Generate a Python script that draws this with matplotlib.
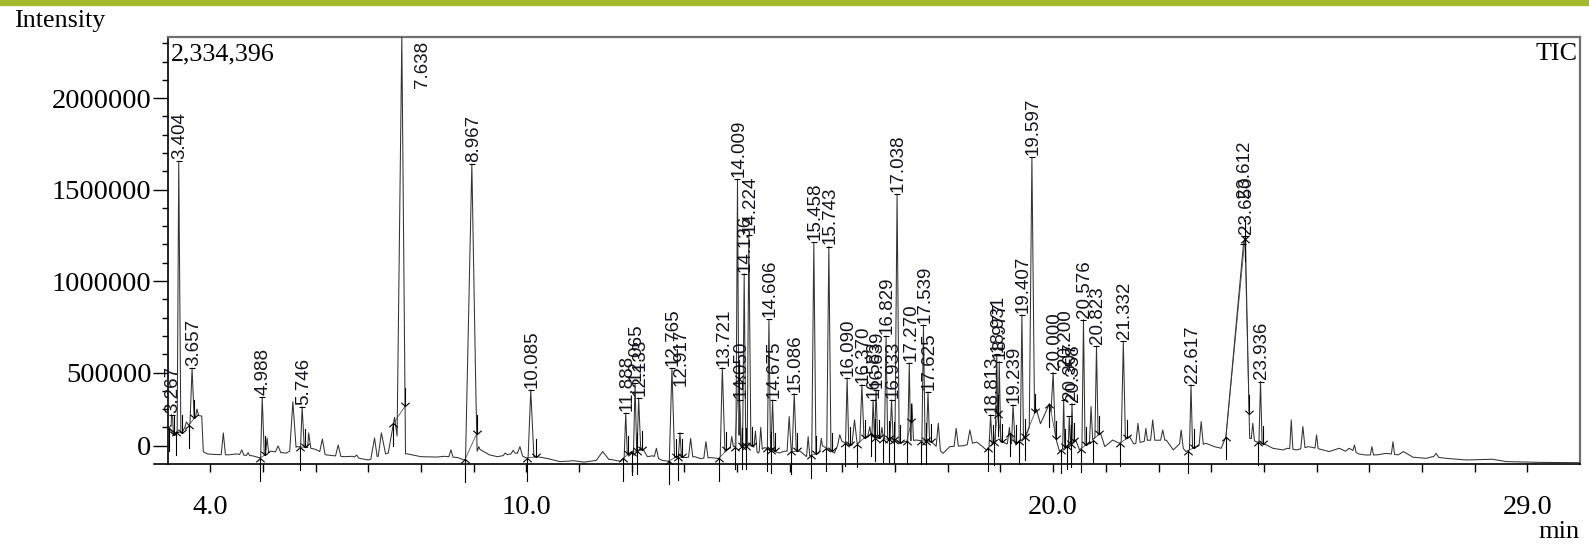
import numpy as np
import matplotlib
matplotlib.use("Agg")
import matplotlib.pyplot as plt
from matplotlib.path import Path
from matplotlib.ticker import FixedLocator

# ---------------------------------------------------------------- data
# detector floor between peaks: retention time (min) and intensity
base_rt = [3.20, 3.25, 3.31, 3.36, 3.46, 3.52, 3.60, 3.70, 3.78, 3.84, 3.87, 3.95,
           4.10, 4.35, 4.50, 4.65, 4.80, 4.95, 5.15, 5.35, 5.45, 5.65, 5.85, 6.00,
           6.20, 6.35, 6.55, 6.70, 6.85, 7.00, 7.38, 7.75, 8.00, 8.30, 8.45, 8.70,
           8.82, 9.12, 9.30, 9.45, 9.55, 9.70, 9.82, 10.00, 10.20, 10.40, 10.64,
           10.90, 11.10, 11.33, 11.60, 11.78, 11.95, 12.22, 12.30, 12.40, 12.58,
           12.70, 12.85, 13.00, 13.20, 13.30, 13.50, 13.65, 13.82, 13.93, 14.30,
           14.40, 14.52, 14.80, 14.90, 15.20, 15.32, 15.55, 15.62, 15.85, 15.95,
           16.15, 16.30, 16.45, 16.72, 16.99, 17.10, 17.18, 17.40, 17.70, 17.91,
           18.04, 18.30, 18.55, 18.66, 18.73, 18.88, 19.05, 19.12, 19.30, 19.48,
           19.68, 19.76, 19.93, 20.07, 20.12, 20.43, 20.50, 20.66, 20.90, 20.98,
           21.13, 21.26, 21.45, 21.53, 21.68, 21.80, 21.97, 22.15, 22.28, 22.40,
           22.52, 22.72, 22.90, 23.06, 23.19, 23.28, 23.75, 23.85, 24.05, 24.17,
           24.36, 24.45, 24.62, 24.85, 25.08, 25.24, 25.43, 25.55, 25.62, 25.80,
           25.94, 26.15, 26.32, 26.55, 26.65, 26.83, 27.08, 27.20, 27.35, 27.46,
           27.84, 28.34, 28.60, 29.23, 30.00]
base_int = [186000, 210000, 160000, 175000, 170000, 200000, 215000, 250000, 265000,
            262000, 67000, 55000, 52000, 50000, 55000, 48000, 45000, 33000, 70000,
            62000, 60000, 95000, 90000, 80000, 50000, 45000, 40000, 42000, 30000,
            22000, 60000, 55000, 40000, 38000, 42000, 35000, 22000, 80000, 50000,
            40000, 45000, 55000, 60000, 33000, 40000, 30000, 13000, 18000, 10000,
            20000, 25000, 15000, 58000, 80000, 40000, 45000, 20000, 15000, 40000,
            35000, 40000, 30000, 35000, 30000, 80000, 95000, 100000, 60000, 90000,
            60000, 70000, 70000, 40000, 60000, 100000, 60000, 131000, 100000,
            113000, 150000, 140000, 131000, 113000, 122000, 131000, 120000, 58000,
            95000, 100000, 120000, 95000, 77000, 120000, 120000, 110000, 113000,
            150000, 300000, 220000, 330000, 120000, 70000, 131000, 77000, 113000,
            168000, 95000, 131000, 113000, 150000, 110000, 120000, 130000, 130000,
            130000, 77000, 110000, 68000, 95000, 113000, 95000, 86000, 150000,
            140000, 122000, 104000, 86000, 77000, 86000, 77000, 95000, 80000,
            68000, 86000, 70000, 86000, 55000, 49000, 50000, 58000, 50000, 68000,
            37000, 31000, 40000, 35000, 31000, 22000, 26000, 13000, 9000, 7000]

# labelled peaks: retention-time label, apex intensity, flank half-widths (min)
peak_label = ["3.267", "3.404", "3.657", "4.988", "5.746", "7.638", "8.967",
              "10.085", "11.888", "12.065", "12.133", "12.765", "12.917", "13.721",
              "14.009", "14.050", "14.136", "14.224", "14.606", "14.675", "15.086",
              "15.458", "15.743", "16.090", "16.370", "16.583", "16.639", "16.829",
              "16.933", "17.038", "17.270", "17.539", "17.625", "18.813", "18.931",
              "18.977", "19.239", "19.407", "19.597", "20.000", "20.200", "20.307",
              "20.358", "20.576", "20.823", "21.332", "22.617", "23.612", "23.650",
              "23.936"]
peak_int = [270000, 1656000, 524000, 365000, 312000, 2334396, 1640000,
            405000, 278000, 442000, 360000, 524000, 170000, 526000,
            1556000, 350000, 1040000, 1250000, 790000, 350000, 384000,
            1211000, 1189000, 471000, 433000, 350000, 405000, 700000,
            350000, 1474000, 553000, 760000, 394000, 268000, 600000,
            560000, 323000, 816000, 1676000, 500000, 350000, 260000,
            330000, 789000, 645000, 670000, 433000, 1200000, 1244000,
            451000]
peak_hw_left = [0.03, 0.03, 0.04, 0.03, 0.03, 0.09, 0.12, 0.05, 0.03, 0.03, 0.03,
                0.05, 0.03, 0.04, 0.03, 0.02, 0.03, 0.03, 0.03, 0.03, 0.04, 0.04,
                0.04, 0.03, 0.04, 0.03, 0.03, 0.03, 0.03, 0.04, 0.03, 0.03, 0.03,
                0.03, 0.03, 0.03, 0.04, 0.03, 0.05, 0.04, 0.02, 0.02, 0.02, 0.03,
                0.03, 0.04, 0.03, 0.35, 0.05, 0.03]
peak_hw_right = [0.03, 0.04, 0.04, 0.04, 0.04, 0.07, 0.10, 0.06, 0.03, 0.03, 0.04,
                 0.05, 0.03, 0.05, 0.03, 0.02, 0.03, 0.04, 0.03, 0.03, 0.04, 0.04,
                 0.04, 0.03, 0.04, 0.03, 0.03, 0.03, 0.03, 0.04, 0.03, 0.03, 0.03,
                 0.03, 0.03, 0.03, 0.04, 0.03, 0.05, 0.04, 0.02, 0.02, 0.02, 0.03,
                 0.03, 0.04, 0.03, 0.05, 0.08, 0.03]
# integration window of each labelled peak (min)
peak_start = [3.22, 3.36, 3.60, 4.95, 5.70, 7.48, 8.84, 10.02, 11.84, 12.01, 12.10,
              12.70, 12.88, 13.66, 13.96, 14.03, 14.09, 14.18, 14.56, 14.64, 15.03,
              15.40, 15.69, 16.05, 16.28, 16.54, 16.61, 16.78, 16.88, 16.98, 17.22,
              17.49, 17.58, 18.76, 18.88, 18.95, 19.18, 19.36, 19.46, 19.93, 20.15,
              20.26, 20.33, 20.53, 20.75, 21.26, 22.56, 23.28, 23.64, 23.88]
peak_end = [3.31, 3.46, 3.70, 5.05, 5.80, 7.70, 9.06, 10.18, 11.93, 12.10, 12.20,
            12.84, 12.95, 13.80, 14.03, 14.09, 14.18, 14.28, 14.64, 14.72, 15.14,
            15.50, 15.80, 16.14, 16.42, 16.61, 16.70, 16.88, 16.98, 17.10, 17.31,
            17.58, 17.68, 18.86, 18.95, 19.02, 19.30, 19.46, 19.66, 20.06, 20.23,
            20.33, 20.40, 20.62, 20.88, 21.40, 22.68, 23.64, 23.72, 23.99]
# labels stacked above a crowded neighbour (points)
label_lift = {"12.917": 32, "20.200": 22, "20.307": 10, "23.612": 32}

# smaller, unlabelled peaks: retention time, apex intensity, half-width (min)
minor_rt = [3.29, 3.55, 3.75, 4.25, 4.60, 4.72, 5.08, 5.29, 5.57, 5.87, 6.13, 6.43,
            6.78, 7.12, 7.25, 7.50, 8.57, 9.10, 9.60, 9.75, 9.88, 11.45, 12.47,
            13.12, 13.41, 13.90, 14.35, 14.45, 14.99, 15.35, 15.60, 15.95, 16.23,
            16.52, 16.75, 17.32, 17.82, 18.16, 18.42, 19.17, 19.87, 20.72, 21.61,
            21.76, 21.89, 22.08, 22.43, 22.81, 23.79, 24.52, 24.74, 25.00, 25.72,
            26.05, 26.45, 27.27]
minor_int = [250000, 230000, 300000, 170000, 77000, 62000, 142000, 99000, 341000,
             170000, 137000, 104000, 49000, 142000, 170000, 255000, 77000, 95000,
             60000, 75000, 95000, 68000, 86000, 140000, 122000, 150000, 180000,
             200000, 259000, 150000, 140000, 160000, 241000, 204000, 200000,
             330000, 223000, 195000, 186000, 200000, 277000, 314000, 222000,
             195000, 241000, 186000, 186000, 232000, 223000, 241000, 205000,
             159000, 104000, 95000, 122000, 58000]
minor_hw = [0.03, 0.04, 0.03, 0.04, 0.04, 0.03, 0.03, 0.05, 0.06, 0.04, 0.05, 0.05,
            0.04, 0.07, 0.08, 0.12, 0.04, 0.06, 0.04, 0.04, 0.05, 0.12, 0.04, 0.04,
            0.04, 0.03, 0.03, 0.03, 0.04, 0.03, 0.03, 0.04, 0.05, 0.04, 0.03, 0.03,
            0.04, 0.04, 0.05, 0.04, 0.05, 0.03, 0.04, 0.03, 0.04, 0.04, 0.04, 0.04,
            0.03, 0.03, 0.04, 0.03, 0.03, 0.03, 0.03, 0.05]

# axis texts
y_tick_values = [100000, 500000, 1000000, 1500000, 2000000]
y_tick_labels = ["0", "500000", "1000000", "1500000", "2000000"]
x_tick_labelled = [4.0, 10.0, 20.0, 29.0]
full_scale = 2334396

# ---------------------------------------------------------------- trace
peak_rt = [float(s) for s in peak_label]
shapes = (list(zip(peak_rt, peak_int, peak_hw_left, peak_hw_right)) +
          list(zip(minor_rt, minor_int, minor_hw, minor_hw)))

knots = set(base_rt)
for rt, h, wl, wr in shapes:
    knots.update([rt - wl, rt, rt + wr])
t = np.array(sorted(k for k in knots if base_rt[0] <= k <= base_rt[-1]))
trace = np.interp(t, base_rt, base_int)
for rt, h, wl, wr in shapes:
    rise = h * (1 - (rt - t) / wl)
    fall = h * (1 - (t - rt) / wr)
    trace = np.maximum(trace, np.where(t <= rt, rise, fall))

# ---------------------------------------------------------------- figure
serif = "Liberation Serif"
sans = "Liberation Sans"
W, H = 1589, 546
fig = plt.figure(figsize=(W / 100, H / 100), dpi=100)
fig.patches.append(plt.Rectangle((0, 1 - 5 / H), 1, 5 / H, transform=fig.transFigure,
                                 color="#a6b92c", zorder=0))

ax = fig.add_axes([168 / W, 82 / H, 1412 / W, 427 / H])
ax.set_xlim(3.2, 30.0)
ax.set_ylim(0, full_scale)

ax.plot(t, trace, color="#333333", lw=0.75, zorder=3)

# integration marks: upward chevron at start, downward chevron at end
chev_up = Path([(-1, -0.9), (0, 0), (1, -0.9)], [Path.MOVETO, Path.LINETO, Path.LINETO])
chev_dn = Path([(-1, 0.9), (0, 0), (1, 0.9)], [Path.MOVETO, Path.LINETO, Path.LINETO])
for ts, te in zip(peak_start, peak_end):
    ys = float(np.interp(ts, t, trace))
    ye = float(np.interp(te, t, trace))
    ax.plot([ts, te], [ys, ye], color="#555555", lw=0.6, zorder=2)
    ax.plot([ts, ts], [ys, ys - 125000], color="black", lw=0.8, clip_on=False, zorder=4)
    ax.plot([te, te], [ye, ye + 100000], color="black", lw=0.8, zorder=4)
    ax.plot([ts], [ys], marker=chev_up, ms=6, mfc="none", mec="black", mew=0.8, zorder=4)
    ax.plot([te], [ye], marker=chev_dn, ms=6, mfc="none", mec="black", mew=0.8, zorder=4)

# retention-time labels above each apex
label_size = 13.5
for lab, rt, h in zip(peak_label, peak_rt, peak_int):
    if h >= full_scale * 0.99:
        ax.annotate(lab, (rt, full_scale), xytext=(15, -3), textcoords="offset points",
                    rotation=90, ha="center", va="top", fontsize=label_size,
                    family=sans, color="#14141e", zorder=5)
        continue
    ax.plot([rt], [h], marker="_", ms=4, mew=0.8, color="black", zorder=4)
    ax.annotate(lab, (rt, h), xytext=(1, 1.5 + label_lift.get(lab, 0)),
                textcoords="offset points", rotation=90, ha="center", va="bottom",
                fontsize=label_size, family=sans, color="#14141e", zorder=5)

# axes frame
for side in ("top", "right"):
    ax.spines[side].set_color("#6f6f6f")
    ax.spines[side].set_linewidth(1.6)
for side in ("left", "bottom"):
    ax.spines[side].set_color("black")
    ax.spines[side].set_linewidth(1.2)
ax.plot([2.93, 3.2], [0, 0], color="black", lw=1.2, clip_on=False)

ax.xaxis.set_major_locator(FixedLocator(np.arange(4, 30)))
ax.set_xticklabels(["%.1f" % v if v in x_tick_labelled else "" for v in np.arange(4, 30)])
ax.tick_params(axis="x", direction="out", length=6, width=1, pad=16,
               labelsize=20.5, labelfontfamily=serif)
ax.set_yticks(y_tick_values, labels=y_tick_labels)
ax.yaxis.set_minor_locator(FixedLocator(
    [v for v in np.arange(200000, 2400000, 100000) if v not in y_tick_values]))
ax.tick_params(axis="y", which="major", direction="out", length=11, width=1, pad=1,
               labelsize=20.5, labelfontfamily=serif)
ax.tick_params(axis="y", which="minor", direction="out", length=4.5, width=1)

ax.text(0.002, 0.985, "{:,}".format(full_scale), transform=ax.transAxes,
        ha="left", va="top", fontsize=18.7, family=serif)
ax.text(0.998, 0.985, "TIC", transform=ax.transAxes, ha="right", va="top",
        fontsize=18.7, family=serif)
fig.text(14 / W, 1 - 21 / H, "Intensity", ha="left", va="center",
         fontsize=18.7, family=serif)
fig.text(1580 / W, 1 - 532 / H, "min", ha="right", va="center",
         fontsize=19, family=serif)

fig.savefig("out.png", dpi=100)
